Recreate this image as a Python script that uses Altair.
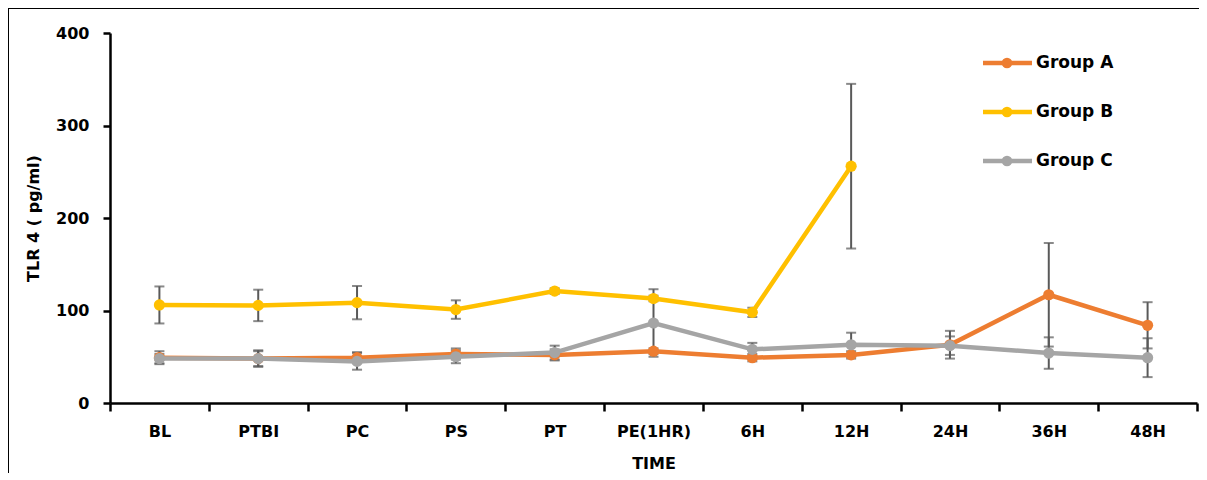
import altair as alt
import pandas as pd

categories = ["BL", "PTBI", "PC", "PS", "PT", "PE(1HR)", "6H", "12H", "24H", "36H", "48H"]
groups = ["Group A", "Group B", "Group C"]
colors = ["#ED7D31", "#FFC000", "#A5A5A5"]

group_a = [49, 48, 49, 53, 52, 56, 49, 52, 63, 117, 84]
group_a_err = [7, 9, 6, 6, 6, 3, 4, 4, 15, 56, 25]
group_b = [106, 105.5, 108.5, 101, 121, 113, 98, 256, None, None, None]
group_b_err = [20, 17, 18, 10, 3, 3, 5, 89, None, None, None]
group_c = [48, 48, 45, 50, 54.5, 86.5, 58, 63, 62, 54, 49]
group_c_err = [5, 8, 9, 7, 7.5, 36.5, 7, 13, 10, 17, 21]

rows = []
for g, vals, errs in [("Group A", group_a, group_a_err),
                      ("Group B", group_b, group_b_err),
                      ("Group C", group_c, group_c_err)]:
    for c, v, e in zip(categories, vals, errs):
        if v is None:
            continue
        rows.append({"time": c, "group": g, "value": v, "err": e})
df = pd.DataFrame(rows)

FONT = "DejaVu Sans"
color_scale = alt.Scale(domain=groups, range=colors)
x_scale = alt.Scale(type="band", domain=categories, paddingInner=0, paddingOuter=0)
y_scale = alt.Scale(domain=[0, 400], nice=False, zero=True)

x_axis = alt.Axis(title="TIME", tickBand="extent", labelAngle=0, grid=False,
                  domainColor="black", domainWidth=2.5, tickColor="black",
                  tickWidth=2.5, tickSize=8, labelFont=FONT, labelFontSize=16,
                  labelFontWeight="bold", labelColor="black", labelPadding=12,
                  titleFont=FONT, titleFontSize=16, titleFontWeight="bold",
                  titleColor="black", titlePadding=16)
y_axis = alt.Axis(title="TLR 4 ( pg/ml)", values=[0, 100, 200, 300, 400], grid=False,
                  domainColor="black", domainWidth=2.5, tickColor="black",
                  tickWidth=2.5, tickSize=7, labelFont=FONT, labelFontSize=16,
                  labelFontWeight="bold", labelColor="black", labelPadding=14,
                  titleFont=FONT, titleFontSize=16, titleFontWeight="bold",
                  titleColor="black", titlePadding=14)


def xe(axis=None):
    if axis is None:
        return alt.X("time:N", sort=categories, scale=x_scale, bandPosition=0.5)
    return alt.X("time:N", sort=categories, scale=x_scale, bandPosition=0.5, axis=axis)


base = alt.Chart(df).transform_calculate(
    lo="datum.value - datum.err", hi="datum.value + datum.err"
)

err_rule = base.mark_rule(color="#595959", strokeWidth=2).encode(
    x=xe(x_axis), y=alt.Y("lo:Q", scale=y_scale, axis=y_axis), y2="hi:Q"
)
err_lo = base.mark_tick(color="#595959", thickness=2, size=10).encode(
    x=xe(), y=alt.Y("lo:Q", scale=y_scale)
)
err_hi = base.mark_tick(color="#595959", thickness=2, size=10).encode(
    x=xe(), y=alt.Y("hi:Q", scale=y_scale)
)

series_layers = []
for g in groups:
    sub = alt.Chart(df).transform_filter(alt.datum.group == g)
    series_layers.append(
        sub.mark_line(strokeWidth=4.5).encode(
            x=xe(), y=alt.Y("value:Q", scale=y_scale),
            color=alt.Color("group:N", scale=color_scale, legend=None)
        )
    )
    series_layers.append(
        sub.mark_circle(size=125, opacity=1).encode(
            x=xe(), y=alt.Y("value:Q", scale=y_scale),
            color=alt.Color("group:N", scale=color_scale, legend=None)
        )
    )

main = alt.layer(err_rule, err_lo, err_hi, *series_layers)

# manual legend
leg = alt.Chart(pd.DataFrame({"group": groups})).transform_window(
    idx="row_number()"
).transform_calculate(ly="30 + 49 * (datum.idx - 1)")
leg_line = leg.mark_rule(strokeWidth=4.5).encode(
    x=alt.value(873), x2=alt.value(922),
    y=alt.Y("ly:Q", scale=None, axis=None),
    color=alt.Color("group:N", scale=color_scale, legend=None)
)
leg_pt = leg.mark_circle(size=115, opacity=1).encode(
    x=alt.value(897),
    y=alt.Y("ly:Q", scale=None, axis=None),
    color=alt.Color("group:N", scale=color_scale, legend=None)
)
leg_txt = leg.mark_text(align="left", baseline="middle", font=FONT, fontSize=17,
                        fontWeight="bold", color="black").encode(
    x=alt.value(926),
    y=alt.Y("ly:Q", scale=None, axis=None),
    text="group:N"
)

# outer frame (top and left edges of the picture)
frame_top = alt.Chart(pd.DataFrame({"k": [0]})).mark_rule(color="black", strokeWidth=1).encode(
    x=alt.value(-102), x2=alt.value(1089), y=alt.value(-24.5)
)
frame_left = alt.Chart(pd.DataFrame({"k": [0]})).mark_rule(color="black", strokeWidth=1).encode(
    x=alt.value(-101.5), y=alt.value(-25), y2=alt.value(460)
)

chart = alt.layer(main, leg_line, leg_pt, leg_txt, frame_top, frame_left).resolve_scale(
    x="independent", y="independent"
).properties(
    width=1087, height=370,
    autosize=alt.AutoSizeParams(type="none"),
    padding={"left": 102, "top": 25, "right": 2, "bottom": 70},
    background="white"
).configure_view(stroke=None)

chart.save("out.html", embed_options={"renderer": "svg", "actions": False})
